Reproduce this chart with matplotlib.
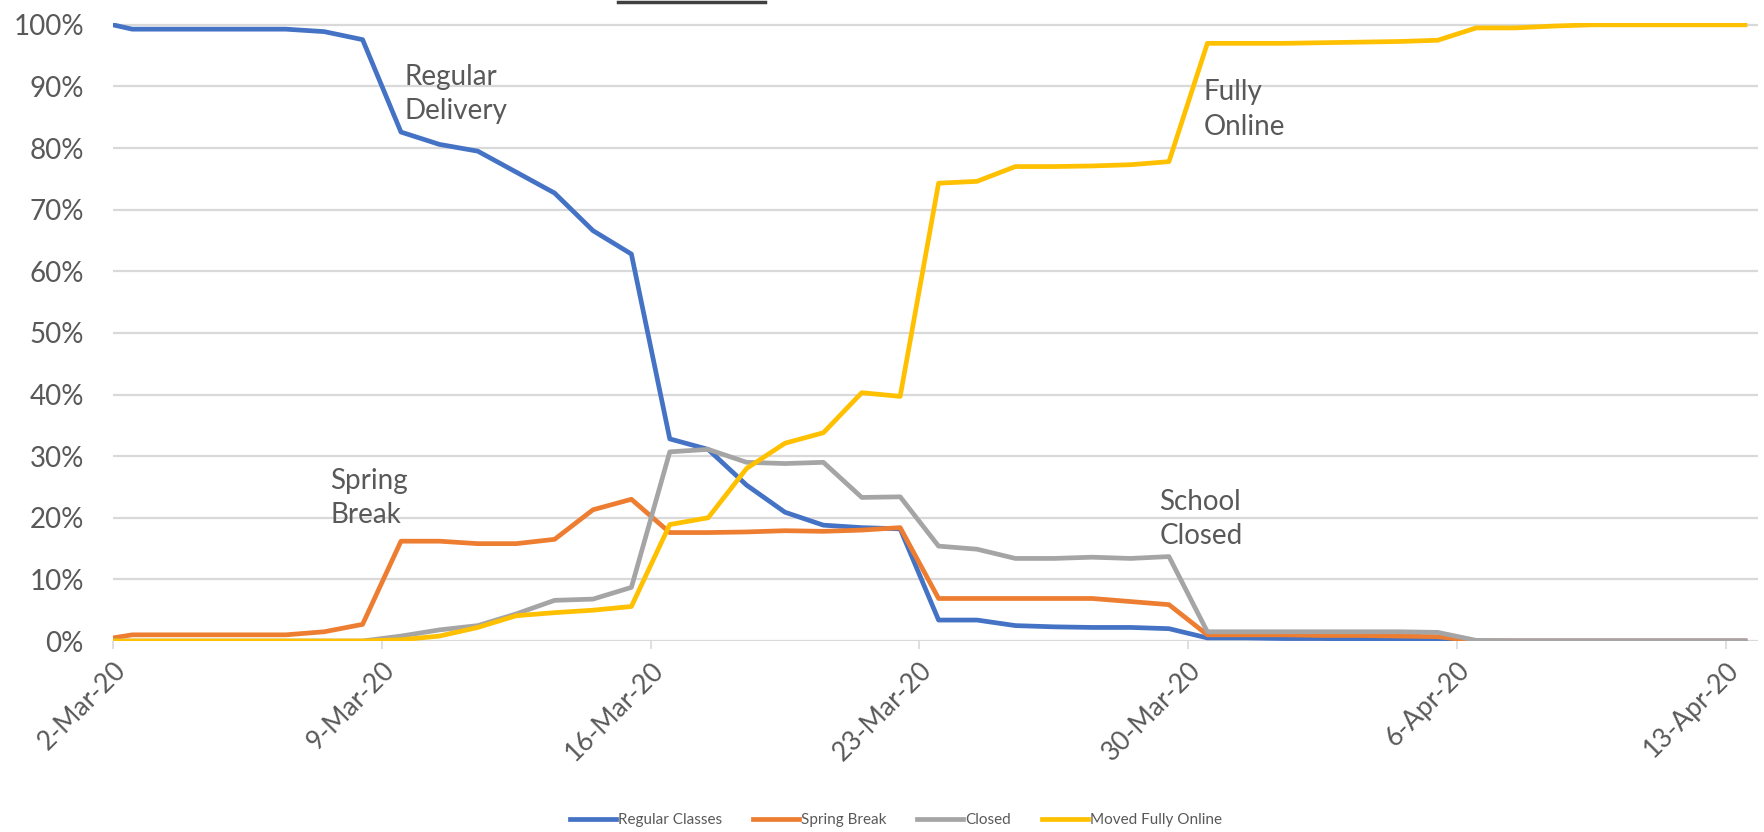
import matplotlib
matplotlib.use("Agg")
import matplotlib.pyplot as plt
from matplotlib.lines import Line2D
import pandas as pd

plt.rcParams['font.family'] = ['Lato', 'DejaVu Sans']

# first reading at midnight, the rest at noon each day
dates = [pd.Timestamp('2020-03-02 00:00')] + list(pd.date_range('2020-03-02 12:00', periods=43, freq='D'))

# share of schools, in percent
regular = [100, 99.3, 99.3, 99.3, 99.3, 99.3, 98.9, 97.6, 82.6, 80.6, 79.5, 76.1, 72.7, 66.6, 62.8,
           32.8, 31.1, 25.3, 20.9, 18.8, 18.4, 18.2, 3.4, 3.4, 2.5, 2.3, 2.2, 2.2, 2.0,
           0.5, 0.5, 0.4, 0.4, 0.3, 0.3, 0.2, 0, 0, 0, 0, 0, 0, 0, 0]
spring_break = [0.5, 1.0, 1.0, 1.0, 1.0, 1.0, 1.5, 2.7, 16.2, 16.2, 15.8, 15.8, 16.5, 21.3, 23.0,
                17.6, 17.6, 17.7, 17.9, 17.8, 18.0, 18.4, 6.9, 6.9, 6.9, 6.9, 6.9, 6.4, 5.9,
                1.0, 1.0, 1.0, 0.9, 0.9, 0.8, 0.7, 0, 0, 0, 0, 0, 0, 0, 0]
closed = [0, 0, 0, 0, 0, 0, 0, 0, 0.8, 1.8, 2.5, 4.4, 6.6, 6.8, 8.7,
          30.7, 31.1, 29.0, 28.8, 29.0, 23.3, 23.4, 15.4, 14.9, 13.4, 13.4, 13.6, 13.4, 13.7,
          1.5, 1.5, 1.5, 1.5, 1.5, 1.5, 1.4, 0.1, 0, 0, 0, 0, 0, 0, 0]
online = [0, 0, 0, 0, 0, 0, 0, 0, 0.2, 0.8, 2.2, 4.1, 4.6, 5.0, 5.6,
          18.9, 20.0, 28.0, 32.1, 33.8, 40.3, 39.7, 74.3, 74.6, 77.0, 77.0, 77.1, 77.3, 77.8,
          97.0, 97.0, 97.0, 97.1, 97.2, 97.3, 97.5, 99.5, 99.5, 99.8, 100, 100, 100, 100, 100]

series_names = ['Regular Classes', 'Spring Break', 'Closed', 'Moved Fully Online']
colors = ['#4472C4', '#ED7D31', '#A5A5A5', '#FFC000']

tick_dates = pd.date_range('2020-03-02', '2020-04-13', freq='7D')
tick_labels = ['2-Mar-20', '9-Mar-20', '16-Mar-20', '23-Mar-20', '30-Mar-20', '6-Apr-20', '13-Apr-20']
y_ticks = [0, 10, 20, 30, 40, 50, 60, 70, 80, 90, 100]

notes = [('Regular\nDelivery', 0.1775, 0.885), ('Spring\nBreak', 0.132, 0.231),
         ('Fully\nOnline', 0.663, 0.860), ('School\nClosed', 0.636, 0.197)]

fig = plt.figure(figsize=(17.64, 8.32), dpi=100)
ax = fig.add_axes([113 / 1764, 191 / 832, 1645 / 1764, 618 / 832])

for vals, name, c in zip([regular, spring_break, closed, online], series_names, colors):
    ax.plot(dates, vals, color=c, lw=3.4, label=name)

ax.set_xlim(pd.Timestamp('2020-03-02'), pd.Timestamp('2020-03-02') + pd.Timedelta(days=42.84))
ax.set_ylim(0, 100.3)
ax.set_yticks(y_ticks)
ax.set_yticklabels([f'{v}%' for v in y_ticks])
ax.set_xticks(tick_dates)
ax.set_xticklabels(tick_labels, rotation=45, ha='right', rotation_mode='anchor')

ax.grid(axis='y', color='#D9D9D9', lw=1.6)
ax.set_axisbelow(True)
for s in ax.spines.values():
    s.set_visible(False)
ax.tick_params(axis='y', length=0, pad=21, labelsize=20, labelcolor='#595959')
ax.tick_params(axis='x', length=6, width=1.2, color='#D9D9D9', pad=6, labelsize=19, labelcolor='#595959')

for txt, x, y in notes:
    ax.text(x, y, txt, transform=ax.transAxes, fontsize=20, color='#595959',
            ha='left', va='center', linespacing=1.4)

fig.legend(loc='center', bbox_to_anchor=(0.508, 0.014), ncol=4, frameon=False,
           fontsize=11, labelcolor='#595959', handlelength=3.0, handletextpad=0.15,
           columnspacing=2.0)

# cropped remnant at the top edge
fig.add_artist(Line2D([618 / 1764, 765 / 1764], [1 - 1.5 / 832] * 2, color='#404040', lw=2.5))

fig.savefig('out.png', dpi=100)
